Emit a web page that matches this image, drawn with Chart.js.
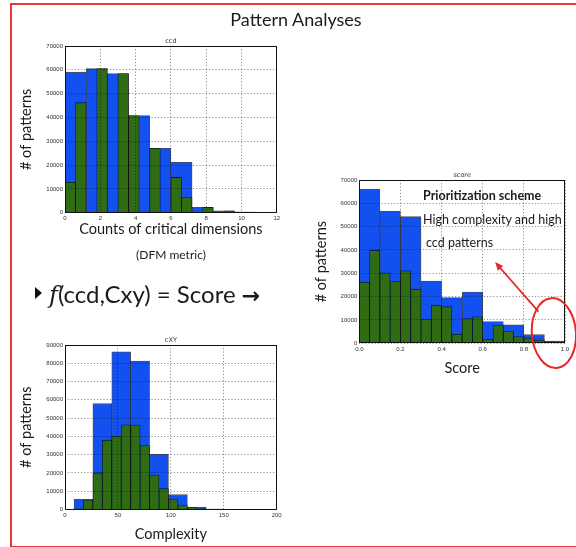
<!DOCTYPE html>
<html>
<head>
<meta charset="utf-8">
<script src="https://cdn.jsdelivr.net/npm/chart.js@4.4.1/dist/chart.umd.min.js"></script>
<style>
  html, body { margin: 0; padding: 0; background: #fff; }
  #page { position: relative; width: 576px; height: 547px; overflow: hidden; background: #fff;
          font-family: Lato, "Open Sans", sans-serif; color: #1b1b1b; }
  #frame { position: absolute; left: 10px; top: 3px; width: 600px; height: 541px; border: 2px solid #e5393b; }
  canvas { position: absolute; left: 0; top: 0; }
  .txt { position: absolute; white-space: nowrap; line-height: 1; }
  .center { transform: translateX(-50%); }
  #bullet { position: absolute; left: 35px; top: 287px; width: 0; height: 0;
            border-left: 7px solid #111; border-top: 6.5px solid transparent; border-bottom: 6.5px solid transparent; }
</style>
</head>
<body>
<div id="page">
  <div id="frame"></div>
  <canvas id="ccdChart" width="576" height="547"></canvas>
  <canvas id="cxyChart" width="576" height="547"></canvas>
  <canvas id="scoreChart" width="576" height="547"></canvas>

  <div class="txt center" style="left:296px; top:10px; font-size:18px;">Pattern Analyses</div>
  <div class="txt center" style="left:171px; top:249px; font-size:12px;">(DFM metric)</div>
  <div id="bullet"></div>
  <div class="txt" style="left:49px; top:281.5px; font-size:24px;"><span style="font-family:'DejaVu Serif',serif; font-style:italic;">f</span>(ccd,Cxy) = Score <span style="font-family:'DejaVu Sans',sans-serif; font-weight:bold; font-size:22px;">&#8594;</span></div>

  <div class="txt" style="left:423px; top:189.5px; font-size:12.5px; font-weight:bold;">Prioritization scheme</div>
  <div class="txt" style="left:423px; top:214px; font-size:12.5px;">High complexity and high</div>
  <div class="txt" style="left:426px; top:237px; font-size:12.5px;">ccd patterns</div>
</div>

<script>
// ---- ccd histogram (counts of critical dimensions) ----
const ccdWideBins    = [0.6, 1.8, 3.0, 4.2, 5.4, 6.6, 7.8, 9.0, 10.2, 11.4];
const ccdWideCounts  = [59000, 60500, 58400, 40800, 27000, 21200, 2300, 800, 250, 80];
const ccdNarrowBins  = [0.3, 0.9, 1.5, 2.1, 2.7, 3.3, 3.9, 4.5, 5.1, 5.7, 6.3, 6.9, 7.5, 8.1, 8.7, 9.3, 9.9, 10.5, 11.1, 11.7];
const ccdNarrowCounts = [12800, 46200, 0, 60500, 0, 58400, 40800, 0, 27000, 0, 14800, 6400, 0, 2300, 0, 800, 250, 0, 60, 20];

// ---- cXY histogram (complexity) ----
const cxyWideBins    = [17.43, 35.28, 53.13, 70.98, 88.83, 106.68, 124.53, 142.38, 160.23, 178.08];
const cxyWideCounts  = [5500, 57900, 86300, 81200, 30200, 8100, 1300, 250, 60, 20];
const cxyNarrowBins  = [12.96, 21.89, 30.81, 39.74, 48.66, 57.59, 66.51, 75.44, 84.36, 93.29, 102.21, 111.14, 120.06, 128.99, 137.91, 146.84, 155.76, 164.69, 173.61, 182.54];
const cxyNarrowCounts = [300, 5200, 20000, 37900, 40000, 46300, 46200, 35000, 18800, 11400, 5700, 2400, 1000, 300, 200, 50, 40, 20, 10, 10];

// ---- score histogram ----
const scoreWideBins    = [0.05, 0.15, 0.25, 0.35, 0.45, 0.55, 0.65, 0.75, 0.85, 0.95];
const scoreWideCounts  = [66000, 56700, 54300, 26700, 19600, 22000, 9300, 7900, 3700, 1000];
const scoreNarrowBins  = [0.025, 0.075, 0.125, 0.175, 0.225, 0.275, 0.325, 0.375, 0.425, 0.475, 0.525, 0.575, 0.625, 0.675, 0.725, 0.775, 0.825, 0.875, 0.925, 0.975];
const scoreNarrowCounts = [26200, 39800, 30200, 26500, 31100, 23200, 10400, 16300, 15700, 3900, 10600, 11400, 1700, 7600, 5000, 2900, 2300, 1400, 600, 400];

// ---- axis ticks ----
const ccdXTicks   = { min: 0, max: 12, step: 2 };
const cxyXTicks   = { min: 0, max: 200, step: 50 };
const scoreXTicks = { min: 0, max: 1, step: 0.2 };
const ccdYTicks   = { max: 70000, step: 10000 };
const cxyYTicks   = { max: 90000, step: 10000 };
const scoreYTicks = { max: 70000, step: 10000 };

const BLUE = '#1250f0';
const GREEN = '#306c14';
const EDGE = 'rgba(0,0,0,0.7)';
const GRID = 'rgba(0,0,0,0.55)';
const TICK_FONT = { family: 'Liberation Sans', size: 6 };
const AXIS_TITLE_FONT = { family: 'Lato', size: 14.5 };

// Black box around the plot area plus the small title above it
const framePlugin = {
  id: 'plotFrame',
  afterDraw(chart, args, opts) {
    const { ctx, chartArea: a } = chart;
    ctx.save();
    ctx.strokeStyle = '#111';
    ctx.lineWidth = 1;
    ctx.strokeRect(Math.round(a.left) + 0.5, Math.round(a.top) + 0.5,
                   Math.round(a.right - a.left) - 1, Math.round(a.bottom - a.top) - 1);
    ctx.font = '6.5px "DejaVu Sans"';
    ctx.fillStyle = '#333';
    ctx.textAlign = 'center';
    ctx.textBaseline = 'bottom';
    ctx.fillText(opts.title, (a.left + a.right) / 2, a.top - 1);
    ctx.restore();
  }
};

// Red circle around the high-score tail and the arrow pointing at the note
const highlightPlugin = {
  id: 'highlight',
  afterDraw(chart, args, opts) {
    const { ctx, scales: { x, y } } = chart;
    ctx.save();
    ctx.strokeStyle = '#e8262b';
    ctx.fillStyle = '#e8262b';
    ctx.lineWidth = 2;
    const cx = x.getPixelForValue(opts.circle.x);
    const cy = y.getPixelForValue(opts.circle.y);
    ctx.beginPath();
    ctx.ellipse(cx, cy, opts.circle.rx, opts.circle.ry, -0.08, 0, Math.PI * 2);
    ctx.stroke();

    const x0 = x.getPixelForValue(opts.arrow.from[0]), y0 = y.getPixelForValue(opts.arrow.from[1]);
    const x1 = x.getPixelForValue(opts.arrow.to[0]),   y1 = y.getPixelForValue(opts.arrow.to[1]);
    const ang = Math.atan2(y1 - y0, x1 - x0);
    const head = 9;
    ctx.lineWidth = 1.8;
    ctx.beginPath();
    ctx.moveTo(x0, y0);
    ctx.lineTo(x1 - Math.cos(ang) * head * 0.8, y1 - Math.sin(ang) * head * 0.8);
    ctx.stroke();
    ctx.beginPath();
    ctx.moveTo(x1, y1);
    ctx.lineTo(x1 - head * Math.cos(ang - 0.4), y1 - head * Math.sin(ang - 0.4));
    ctx.lineTo(x1 - head * Math.cos(ang + 0.4), y1 - head * Math.sin(ang + 0.4));
    ctx.closePath();
    ctx.fill();
    ctx.restore();
  }
};

function points(xs, ys) {
  return xs.map((v, i) => ({ x: v, y: ys[i] }));
}

function histogram(id, d) {
  const xTickFmt = d.xFmt || (v => String(v));
  return new Chart(document.getElementById(id), {
    type: 'bar',
    data: {
      datasets: [
        { data: points(d.narrowBins, d.narrowCounts), xAxisID: 'x2', backgroundColor: GREEN,
          borderColor: EDGE, borderWidth: 0.8, categoryPercentage: 1, barPercentage: 1,
          grouped: false, order: 0 },
        { data: points(d.wideBins, d.wideCounts), xAxisID: 'x', backgroundColor: BLUE,
          borderColor: EDGE, borderWidth: 0.8, categoryPercentage: 1, barPercentage: 1,
          grouped: false, order: 1 }
      ]
    },
    options: {
      responsive: false,
      animation: false,
      devicePixelRatio: 1,
      events: [],
      layout: { padding: d.padding },
      plugins: {
        legend: { display: false },
        tooltip: { enabled: false },
        plotFrame: { title: d.title },
        highlight: d.highlight || {}
      },
      scales: {
        x: {
          type: 'linear', position: 'bottom', offset: false,
          min: d.xTicks.min, max: d.xTicks.max,
          grid: { offset: false, color: GRID, lineWidth: 0.8, drawTicks: false, z: 1 },
          border: { display: false, dash: [1.2, 2] },
          ticks: { stepSize: d.xTicks.step, autoSkip: false, maxRotation: 0, padding: 2,
                   font: TICK_FONT, color: '#333', callback: xTickFmt },
          title: { display: true, text: d.xTitle, font: AXIS_TITLE_FONT, color: '#1b1b1b',
                   padding: { top: 0, bottom: d.xTitlePad } },
          afterFit(s) { s.height = d.xAxisHeight; }
        },
        x2: {
          type: 'linear', display: false, offset: false,
          min: d.xTicks.min, max: d.xTicks.max,
          ticks: { stepSize: d.xTicks.step }
        },
        y: {
          type: 'linear', position: 'left', min: 0, max: d.yTicks.max,
          grid: { color: GRID, lineWidth: 0.8, drawTicks: false, z: 1 },
          border: { display: false, dash: [1.2, 2] },
          ticks: { stepSize: d.yTicks.step, padding: 2, font: TICK_FONT, color: '#333',
                   callback: v => String(v) },
          title: { display: true, text: '# of patterns', font: AXIS_TITLE_FONT, color: '#1b1b1b',
                   padding: { top: d.yTitlePad, bottom: 0 } },
          afterFit(s) { s.width = d.yAxisWidth; }
        }
      }
    },
    plugins: d.highlight ? [framePlugin, highlightPlugin] : [framePlugin]
  });
}

histogram('ccdChart', {
  title: 'ccd',
  wideBins: ccdWideBins, wideCounts: ccdWideCounts,
  narrowBins: ccdNarrowBins, narrowCounts: ccdNarrowCounts,
  xTicks: ccdXTicks, yTicks: ccdYTicks,
  xTitle: 'Counts of critical dimensions',
  padding: { left: 15, top: 46, right: 299.2, bottom: 307 },
  yAxisWidth: 50, xAxisHeight: 27.3, yTitlePad: 3, xTitlePad: 2
});

histogram('cxyChart', {
  title: 'cXY',
  wideBins: cxyWideBins, wideCounts: cxyWideCounts,
  narrowBins: cxyNarrowBins, narrowCounts: cxyNarrowCounts,
  xTicks: cxyXTicks, yTicks: cxyYTicks,
  xTitle: 'Complexity',
  padding: { left: 15, top: 345, right: 299.3, bottom: 2 },
  yAxisWidth: 50, xAxisHeight: 35.5, yTitlePad: 3, xTitlePad: 2
});

histogram('scoreChart', {
  title: 'score',
  wideBins: scoreWideBins, wideCounts: scoreWideCounts,
  narrowBins: scoreNarrowBins, narrowCounts: scoreNarrowCounts,
  xTicks: scoreXTicks, yTicks: scoreYTicks,
  xFmt: v => v.toFixed(1),
  xTitle: 'Score',
  padding: { left: 310, top: 180, right: 11, bottom: 167 },
  yAxisWidth: 49.3, xAxisHeight: 36.7, yTitlePad: 2.7, xTitlePad: 3,
  highlight: {
    circle: { x: 0.946, y: 4400, rx: 22, ry: 35 },
    arrow: { from: [0.871, 13600], to: [0.66, 34800] }
  }
});
</script>
</body>
</html>
